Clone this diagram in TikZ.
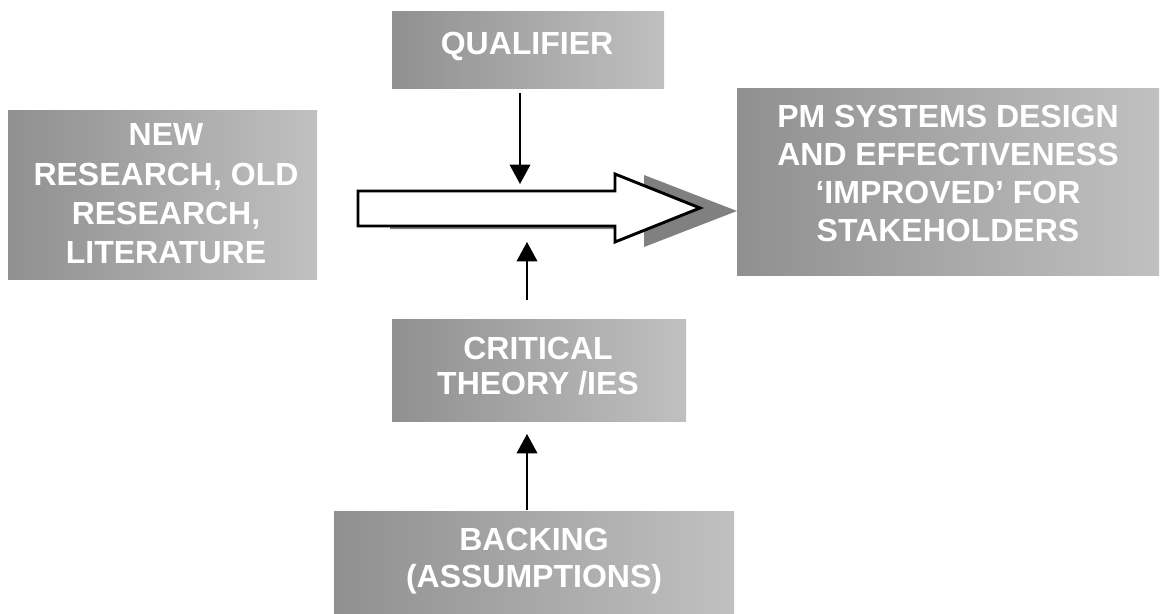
\documentclass[tikz,border=0pt]{standalone}
\usepackage{fontspec}
\setmainfont{Liberation Sans}
\usetikzlibrary{arrows.meta,fit}
\definecolor{boxL}{RGB}{144,144,144}
\definecolor{boxR}{RGB}{192,192,192}
\definecolor{shadowgray}{RGB}{128,128,128}
\begin{document}
\begin{tikzpicture}[x=0.75pt,y=-0.75pt,
  box/.style={inner sep=0pt, outer sep=0pt, draw=none, left color=boxL, right color=boxR},
  lbl/.style={text=white, inner sep=0pt, align=center, font=\bfseries\fontsize{24}{28.5}\selectfont},
  conn/.style={line width=1pt, -{Triangle[length=14.5pt,width=15.5pt]}},
  bigarrow/.style={draw=black, fill=white, line width=2.2pt, line join=miter},
  shadow/.style={fill=shadowgray, draw=none}]
\useasboundingbox (0,0) rectangle (1164,614);

% boxes
\node[box, fit={(392,11) (664,88)}] (qual) {};
\node[box, fit={(8,110) (317,279)}] (data) {};
\node[box, fit={(737,88) (1159,275)}] (claim) {};
\node[box, fit={(392,319) (686,421)}] (warrant) {};
\node[box, fit={(334,511) (734,614)}] (backing) {};

% labels
\node[lbl] (qualT) at (527,46) {QUALIFIER};
\node[lbl, font=\bfseries\fontsize{24}{29.5}\selectfont] (dataT) at (166,194) {NEW\\RESEARCH, OLD\\RESEARCH,\\LITERATURE};
\node[lbl] (claimT) at (948,173) {PM SYSTEMS DESIGN\\AND EFFECTIVENESS\\‘IMPROVED’ FOR\\STAKEHOLDERS};
\node[lbl, font=\bfseries\fontsize{24}{26}\selectfont] (warrantT) at (538,366) {CRITICAL\\THEORY /IES};
\node[lbl, font=\bfseries\fontsize{24}{27.5}\selectfont] (backingT) at (534,561) {BACKING\\(ASSUMPTIONS)};

% big arrow with shadow
\fill[shadow] (390,195) -- (644,195) -- (644,175) -- (737,211) -- (644,247) -- (644,229) -- (390,229) -- cycle;
\draw[bigarrow] (358,191) -- (615,191) -- (615,174) -- (700,208) -- (615,242) -- (615,226) -- (358,226) -- cycle;
\coordinate (arrtop) at (520,191);
\coordinate (arrbot) at (527,226);

% connectors
\draw[conn] ([xshift=-6pt,yshift=-3.75pt]qual.south) -- ([yshift=5.25pt]arrtop);
\draw[conn] ([xshift=-9pt,yshift=14.25pt]warrant.north) -- ([yshift=-12pt]arrbot);
\draw[conn] ([xshift=-5.25pt,yshift=0.75pt]backing.north) -- ([xshift=-9pt,yshift=-9.75pt]warrant.south);
\end{tikzpicture}
\end{document}
